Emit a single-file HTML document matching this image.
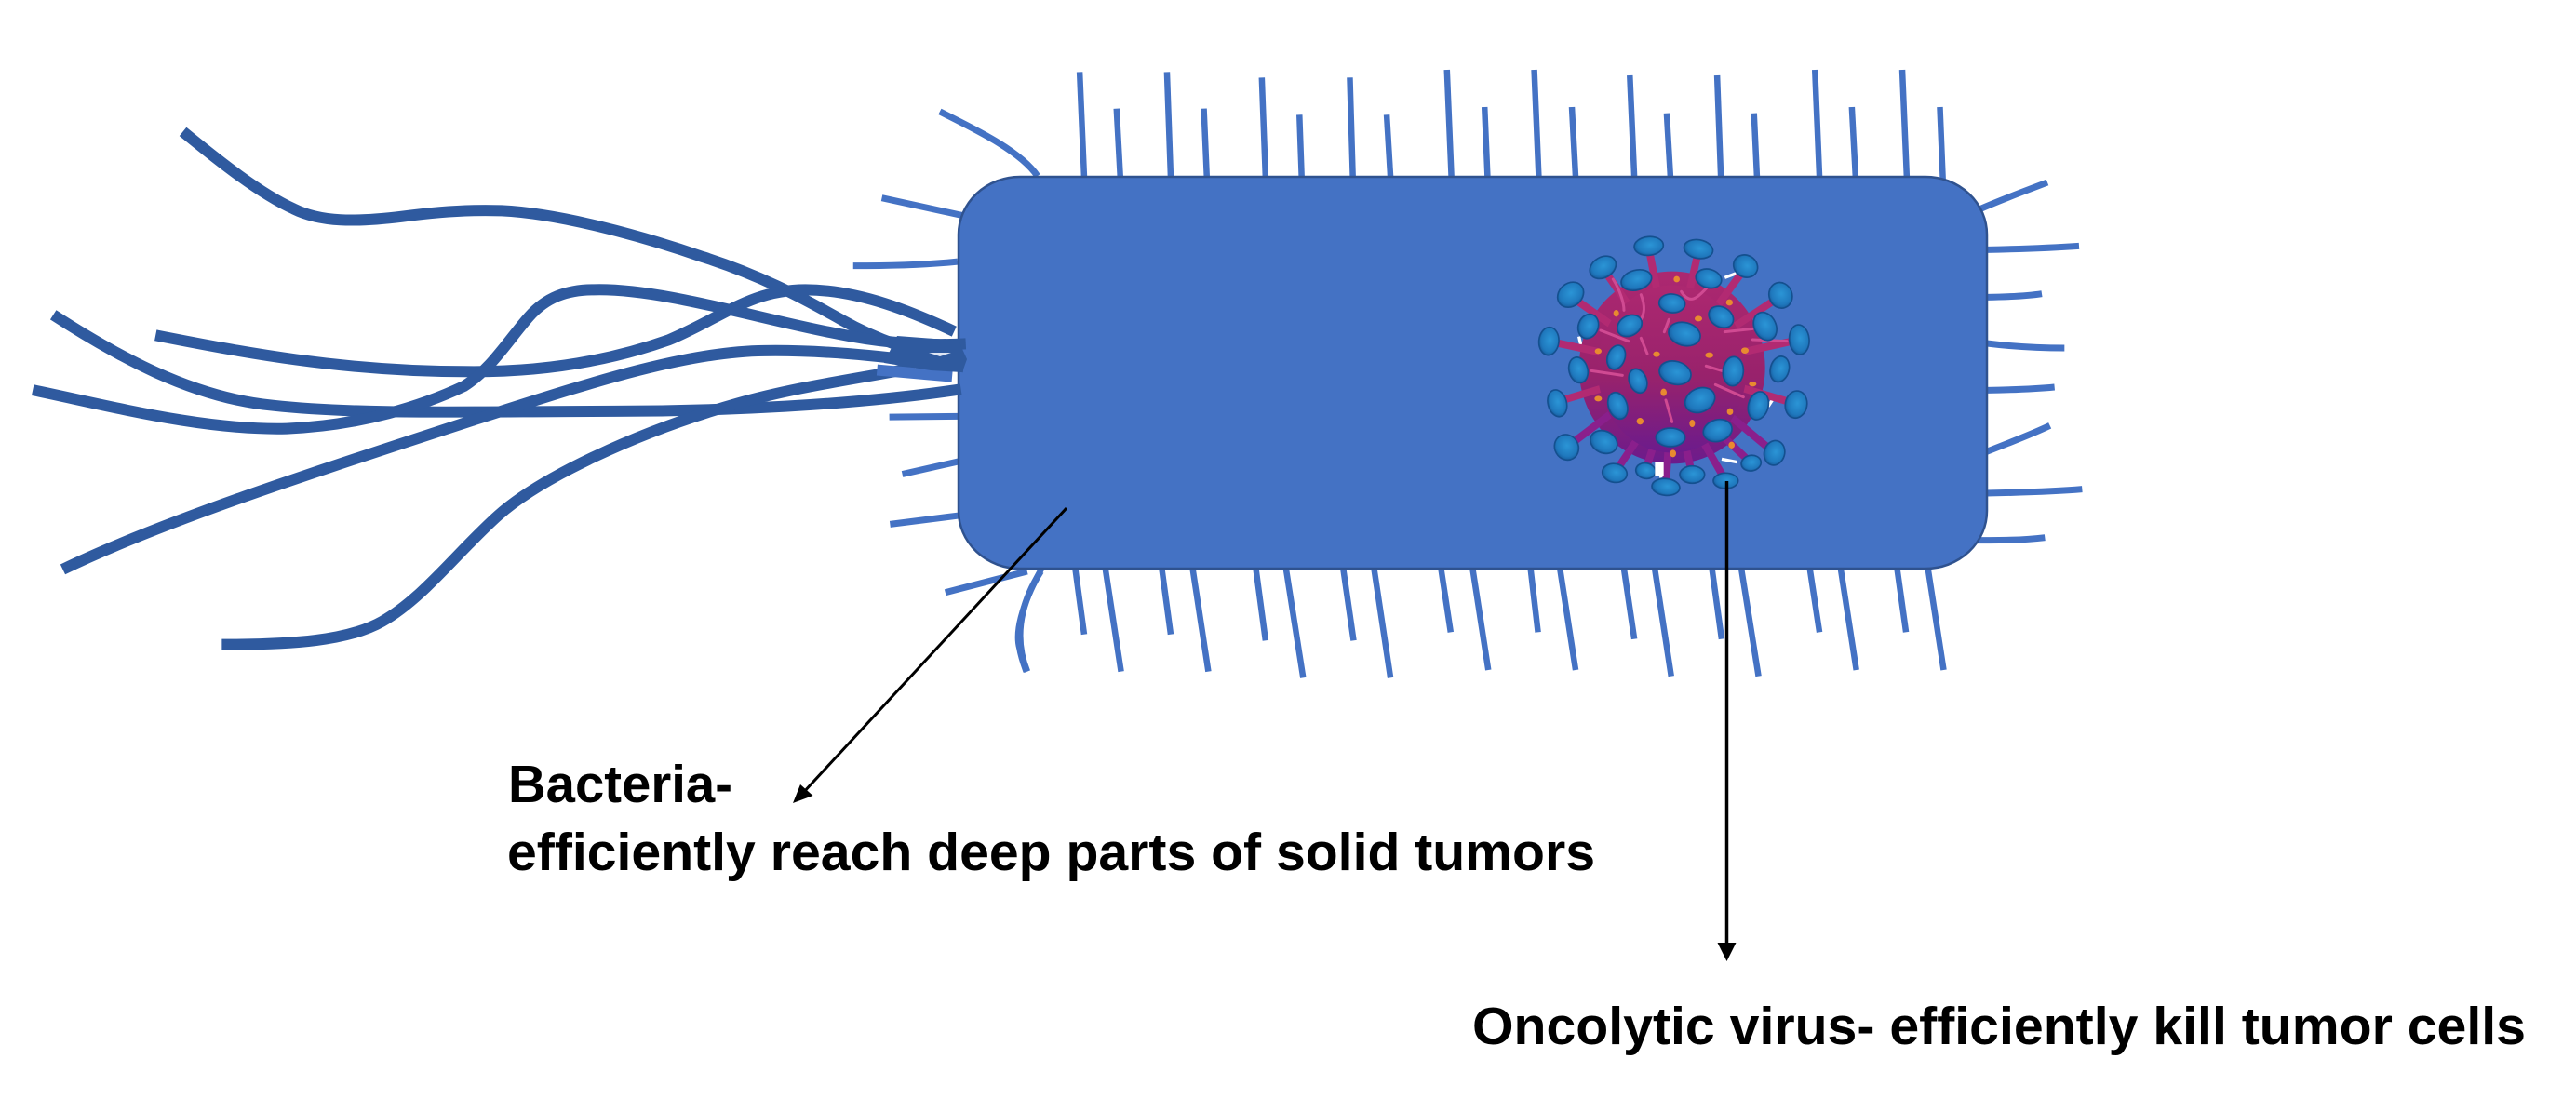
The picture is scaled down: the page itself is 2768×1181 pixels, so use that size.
<!DOCTYPE html>
<html lang="en">
<head>
<meta charset="utf-8">
<title>Bacteria and oncolytic virus</title>
<style>
html,body{margin:0;padding:0;background:#fff;width:2768px;height:1181px;overflow:hidden}
svg{display:block}
.h path{vector-effect:non-scaling-stroke;fill:none;stroke:#4472c4;stroke-linecap:butt}
.f path{vector-effect:non-scaling-stroke;fill:none;stroke:#2f5a9f;stroke-width:12;stroke-linecap:butt}
text{font-family:"Liberation Sans",sans-serif;font-weight:bold;font-size:57px;fill:#000}
</style>
</head>
<body>
<svg xmlns="http://www.w3.org/2000/svg" width="2768" height="1181" viewBox="0 0 2768 1181">
<defs>
<linearGradient id="vb" x1="0" y1="0" x2="0" y2="1">
<stop offset="0" stop-color="#ad2870"/><stop offset="0.55" stop-color="#98226c"/><stop offset="1" stop-color="#6c1b8c"/>
</linearGradient>
<radialGradient id="cap" cx="0.55" cy="0.45" r="0.65">
<stop offset="0" stop-color="#2b95d6"/><stop offset="0.65" stop-color="#1f78bd"/><stop offset="1" stop-color="#14508f"/>
</radialGradient>
</defs>

<!-- top hairs -->
<g class="h" stroke-width="6.5" transform="translate(1000,50) scale(0.8087,0.33333)">
<path d="M204,422L198,82"/><path d="M252,422L247,200"/><path d="M319,422L314,82"/><path d="M367,422L363,200"/>
<path d="M445,422L440,100"/><path d="M493,422L490,220"/><path d="M561,422L557,100"/><path d="M611,422L606,220"/>
<path d="M692,422L686,75"/><path d="M740,422L736,195"/><path d="M808,422L802,75"/><path d="M857,422L852,195"/>
<path d="M935,422L929,93"/><path d="M983,422L978,215"/><path d="M1050,422L1045,93"/><path d="M1098,422L1094,215"/>
<path d="M1181,422L1175,75"/><path d="M1229,422L1224,195"/><path d="M1297,422L1291,75"/><path d="M1345,430L1341,195"/>
</g>
<!-- bottom hairs -->
<g class="h" stroke-width="6.5" transform="translate(1000,560) scale(0.8087,0.33333)">
<path d="M192,150L204,365"/><path d="M232,150L253,485"/><path d="M307,150L319,365"/><path d="M348,150L369,485"/>
<path d="M432,150L445,385"/><path d="M472,150L495,505"/><path d="M548,150L562,385"/><path d="M589,150L611,505"/>
<path d="M678,150L691,358"/><path d="M720,150L741,480"/><path d="M797,150L807,358"/><path d="M836,150L857,480"/>
<path d="M921,150L935,380"/><path d="M962,150L984,500"/><path d="M1038,150L1051,380"/><path d="M1077,150L1100,500"/>
<path d="M1168,150L1181,358"/><path d="M1209,150L1230,480"/><path d="M1284,150L1296,358"/><path d="M1325,150L1346,480"/>
<path d="M148,150C130,230 110,340 118,410C120,440 124,465 127,485"/>
</g>
<!-- right hairs -->
<g class="h" stroke-width="7" transform="translate(2060,170) scale(0.33333,0.33333)">
<path d="M200,165C280,130 350,105 420,78"/><path d="M225,295C320,293 420,290 522,283"/>
<path d="M225,448C290,447 350,445 402,437"/><path d="M225,597C290,605 380,612 475,612"/>
<path d="M225,748C290,747 370,745 443,738"/><path d="M222,947C290,920 370,890 428,862"/>
<path d="M225,1080C320,1078 430,1076 532,1067"/><path d="M180,1232C260,1232 340,1232 412,1223"/>
</g>
<!-- left hairs -->
<g class="h" stroke-width="7" transform="translate(0,100) scale(0.7334,0.41446)">
<path d="M1377,48C1430,95 1495,150 1520,215"/>
<path d="M1292,272L1412,318"/>
<path d="M1250,448C1310,448 1360,445 1403,437"/>
<path d="M1303,840L1405,838"/>
<path d="M1322,988L1405,955"/>
<path d="M1304,1118L1407,1095"/>
<path d="M1385,1295L1505,1240"/>
<path d="M1525,1240C1500,1310 1482,1400 1505,1500"/>
</g>

<!-- body -->
<rect x="1030" y="190" width="1105" height="421" rx="66" ry="62" fill="#4472c4" stroke="#2f528f" stroke-width="2.5"/>

<!-- flagella -->
<g class="f" transform="translate(0,100) scale(0.7334,0.41446)">
<path d="M268,100C320,175 380,260 430,300C470,335 520,335 590,320C640,308 690,302 735,305C820,312 940,370 1030,425C1110,470 1170,525 1235,590C1280,635 1340,675 1405,695"/>
<path d="M228,628C350,670 500,722 680,722C800,725 900,690 980,640C1060,580 1100,510 1180,510C1260,510 1340,570 1398,618"/>
<path d="M78,575C170,680 280,790 400,810C530,835 700,825 900,825C1050,825 1250,810 1408,768"/>
<path d="M48,770C170,815 300,875 420,870C530,862 620,810 680,760C720,715 745,640 775,580C800,530 830,510 870,510C970,505 1120,590 1230,625C1300,650 1360,655 1415,650"/>
<path d="M92,1235C250,1100 500,960 690,850C850,760 1000,670 1120,668C1220,665 1330,690 1412,710"/>
<path d="M325,1430C430,1430 510,1420 560,1370C620,1310 670,1190 730,1095C790,1000 930,880 1080,805C1170,760 1260,740 1340,712"/>
<path d="M1285,718L1395,735" style="stroke:#4472c4"/>
</g>
<!-- flagella root cluster -->
<polygon points="964,361 1030,366 1039,386 1034,400 1000,398 950,390" fill="#2f5a9f"/>
<polygon points="998,379 1022,379 1010,383" fill="#dfe6f3"/>

<!-- virus -->
<g transform="translate(1620,230) scale(0.33333)">
<g stroke="#fff" stroke-width="10" fill="none">
<path d="M480,800L495,850"/><path d="M690,790L740,800"/><path d="M860,590L840,620"/><path d="M230,395L240,440"/><path d="M700,205L740,190"/>
</g>
<ellipse cx="530" cy="495" rx="300" ry="310" fill="url(#vb)"/>
<g stroke="#b22a72" stroke-width="24" stroke-linecap="round">
<line x1="530" y1="495" x2="455" y2="110"/><line x1="530" y1="495" x2="615" y2="120"/>
<line x1="530" y1="495" x2="307" y2="175"/><line x1="530" y1="495" x2="767" y2="172"/>
<line x1="530" y1="495" x2="203" y2="265"/><line x1="530" y1="495" x2="880" y2="265"/>
<line x1="530" y1="495" x2="133" y2="410"/><line x1="530" y1="495" x2="940" y2="405"/>
<line x1="530" y1="495" x2="160" y2="605"/><line x1="530" y1="495" x2="930" y2="612"/>
</g>
<g stroke="#8a1f8c" stroke-width="24" stroke-linecap="round">
<line x1="530" y1="495" x2="190" y2="752"/><line x1="530" y1="495" x2="860" y2="770"/>
<line x1="530" y1="560" x2="345" y2="835"/><line x1="530" y1="560" x2="510" y2="880"/>
<line x1="530" y1="560" x2="703" y2="860"/><line x1="530" y1="560" x2="445" y2="825"/>
<line x1="530" y1="560" x2="595" y2="840"/><line x1="530" y1="560" x2="785" y2="803"/>
</g>
<ellipse cx="530" cy="500" rx="240" ry="270" fill="url(#vb)"/>
<g stroke="#d04a92" stroke-width="9" fill="none" stroke-linecap="round">
<path d="M560,250C590,300 620,260 640,240"/><path d="M430,260C445,300 440,320 430,340"/>
<path d="M340,210C365,250 375,290 375,310"/><path d="M300,375L390,410"/>
<path d="M270,505L370,520"/><path d="M640,490L690,505"/><path d="M670,550L760,590"/>
<path d="M430,400L450,450"/><path d="M520,340L505,380"/><path d="M510,600L530,670"/>
<path d="M790,405L900,410"/><path d="M700,380L790,370"/>
</g>
<g fill="#e88a30">
<ellipse cx="545" cy="210" rx="10" ry="10"/><ellipse cx="350" cy="320" rx="9" ry="11"/><ellipse cx="715" cy="285" rx="11" ry="10"/><ellipse cx="615" cy="337" rx="12" ry="9"/>
<ellipse cx="292" cy="442" rx="11" ry="9"/><ellipse cx="480" cy="452" rx="11" ry="9"/><ellipse cx="650" cy="455" rx="13" ry="9"/><ellipse cx="765" cy="440" rx="12" ry="10"/>
<ellipse cx="790" cy="548" rx="12" ry="8"/><ellipse cx="503" cy="575" rx="10" ry="12"/><ellipse cx="292" cy="595" rx="12" ry="9"/><ellipse cx="717" cy="637" rx="10" ry="11"/>
<ellipse cx="595" cy="675" rx="9" ry="12"/><ellipse cx="427" cy="668" rx="11" ry="11"/><ellipse cx="722" cy="745" rx="10" ry="11"/><ellipse cx="533" cy="772" rx="10" ry="12"/>
</g>
<g fill="url(#cap)" stroke="#14508f" stroke-width="5">
<ellipse cx="455" cy="103" rx="47" ry="30" transform="rotate(-5 455 103)"/>
<ellipse cx="615" cy="113" rx="47" ry="30" transform="rotate(10 615 113)"/>
<ellipse cx="307" cy="172" rx="45" ry="33" transform="rotate(-30 307 172)"/>
<ellipse cx="767" cy="168" rx="40" ry="35" transform="rotate(30 767 168)"/>
<ellipse cx="415" cy="213" rx="50" ry="32" transform="rotate(-15 415 213)"/>
<ellipse cx="648" cy="208" rx="42" ry="30" transform="rotate(15 648 208)"/>
<ellipse cx="203" cy="260" rx="45" ry="37" transform="rotate(-40 203 260)"/>
<ellipse cx="880" cy="262" rx="37" ry="42" transform="rotate(-20 880 262)"/>
<ellipse cx="530" cy="288" rx="42" ry="30" transform="rotate(5 530 288)"/>
<ellipse cx="688" cy="332" rx="42" ry="32" transform="rotate(30 688 332)"/>
<ellipse cx="393" cy="360" rx="42" ry="32" transform="rotate(-30 393 360)"/>
<ellipse cx="260" cy="362" rx="32" ry="40" transform="rotate(20 260 362)"/>
<ellipse cx="830" cy="362" rx="35" ry="47" transform="rotate(-25 830 362)"/>
<ellipse cx="570" cy="387" rx="52" ry="37" transform="rotate(15 570 387)"/>
<ellipse cx="940" cy="405" rx="32" ry="48" transform="rotate(-5 940 405)"/>
<ellipse cx="133" cy="410" rx="32" ry="45" transform="rotate(5 133 410)"/>
<ellipse cx="350" cy="462" rx="28" ry="40" transform="rotate(20 350 462)"/>
<ellipse cx="228" cy="503" rx="30" ry="42" transform="rotate(-15 228 503)"/>
<ellipse cx="877" cy="500" rx="30" ry="42" transform="rotate(15 877 500)"/>
<ellipse cx="727" cy="507" rx="33" ry="47" transform="rotate(5 727 507)"/>
<ellipse cx="540" cy="512" rx="52" ry="37" transform="rotate(15 540 512)"/>
<ellipse cx="420" cy="538" rx="28" ry="40" transform="rotate(-20 420 538)"/>
<ellipse cx="160" cy="610" rx="30" ry="44" transform="rotate(-15 160 610)"/>
<ellipse cx="930" cy="614" rx="35" ry="44" transform="rotate(10 930 614)"/>
<ellipse cx="355" cy="618" rx="30" ry="44" transform="rotate(-20 355 618)"/>
<ellipse cx="620" cy="600" rx="50" ry="38" transform="rotate(-25 620 600)"/>
<ellipse cx="808" cy="618" rx="32" ry="46" transform="rotate(15 808 618)"/>
<ellipse cx="677" cy="698" rx="47" ry="35" transform="rotate(-15 677 698)"/>
<ellipse cx="190" cy="752" rx="38" ry="42" transform="rotate(-30 190 752)"/>
<ellipse cx="525" cy="720" rx="47" ry="30"/>
<ellipse cx="310" cy="735" rx="45" ry="35" transform="rotate(25 310 735)"/>
<ellipse cx="860" cy="770" rx="33" ry="40" transform="rotate(15 860 770)"/>
<ellipse cx="345" cy="835" rx="40" ry="30" transform="rotate(10 345 835)"/>
<ellipse cx="445" cy="828" rx="32" ry="25" transform="rotate(10 445 828)"/>
<ellipse cx="510" cy="880" rx="45" ry="27" transform="rotate(5 510 880)"/>
<ellipse cx="595" cy="840" rx="40" ry="28"/>
<ellipse cx="703" cy="860" rx="40" ry="25"/>
<ellipse cx="785" cy="803" rx="32" ry="25" transform="rotate(-10 785 803)"/>
</g>
<rect x="475" y="800" width="28" height="45" fill="#fff"/>
</g>

<!-- arrows -->
<line x1="1146" y1="546" x2="862" y2="853" stroke="#000" stroke-width="3"/>
<polygon points="852,863 860,843 873.5,855" fill="#000"/>
<line x1="1855.5" y1="517" x2="1855.5" y2="1016" stroke="#000" stroke-width="3.5"/>
<polygon points="1845.5,1013 1865.5,1013 1855.5,1033" fill="#000"/>

<!-- labels -->
<text x="546" y="862" textLength="241" lengthAdjust="spacingAndGlyphs">Bacteria-</text>
<text x="545" y="935" textLength="1169" lengthAdjust="spacingAndGlyphs">efficiently reach deep parts of solid tumors</text>
<text x="1582" y="1122" textLength="1132" lengthAdjust="spacingAndGlyphs">Oncolytic virus- efficiently kill tumor cells</text>
</svg>
</body>
</html>
